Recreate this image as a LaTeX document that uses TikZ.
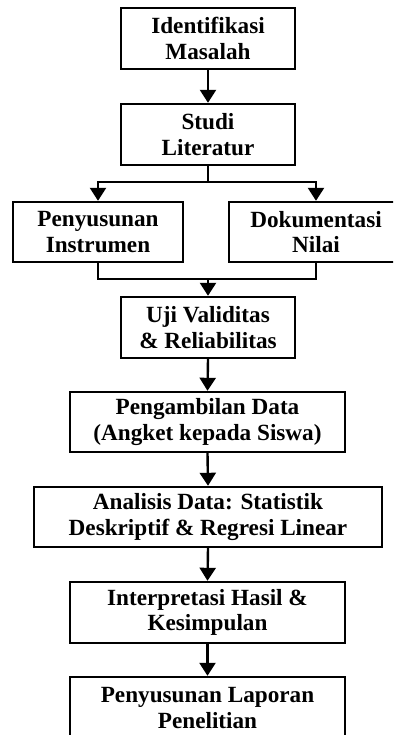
\documentclass[tikz,border=0pt]{standalone}
\usepackage{fontspec}
\setmainfont{Liberation Serif}
\usetikzlibrary{arrows.meta}
\begin{document}
\begin{tikzpicture}[x=1pt,y=-1pt,
  box/.style={draw,line width=2.4pt,align=center,inner sep=0pt,
    font=\fontsize{23.2}{25.5}\selectfont\bfseries},
  conn/.style={line width=2.4pt},
  arr/.style={conn,-{Triangle[width=16pt,length=13pt]}}]
\path[use as bounding box] (0,0) rectangle (393,735);
\clip (0,0) rectangle (393,735);
\node[box,minimum width=174pt,minimum height=61pt] (b1) at (208,38.5) {Identifikasi\\Masalah};
\node[box,minimum width=174pt,minimum height=61pt] (b2) at (208,134.5) {Studi\\Literatur};
\node[box,minimum width=170pt,minimum height=60pt] (b3l) at (98,232) {Penyusunan\\Instrumen};
\node[box,minimum width=174pt,minimum height=60pt] (b3r) at (316,232) {Dokumentasi\\Nilai};
\node[box,minimum width=174pt,minimum height=61pt] (b4) at (208,327.5) {Uji Validitas\\\& Reliabilitas};
\node[box,minimum width=275pt,minimum height=60pt] (b5) at (207.5,422) {Pengambilan Data\\(Angket kepada Siswa)};
\node[box,minimum width=348pt,minimum height=60pt] (b6) at (208,517) {Analisis Data: Statistik\\Deskriptif \& Regresi Linear};
\node[box,minimum width=275pt,minimum height=61pt] (b7) at (207.5,612.5) {Interpretasi Hasil \&\\Kesimpulan};
\node[box,minimum width=275pt,minimum height=62pt] (b8) at (207.5,708) {Penyusunan Laporan\\Penelitian};
\coordinate (s) at (208,182);
\coordinate (m) at (208,279);
\draw[arr] (b1.south) -- (b2.north);
\draw[conn] (b2.south) -- (s);
\draw[arr] (s) -| (b3l.north);
\draw[arr] (s) -| (b3r.north);
\draw[conn] (b3l.south) -- (b3l.south |- m) -- (b3r.south |- m) -- (b3r.south);
\draw[arr] (m) -- (b4.north);
\draw[arr] (b4.south) -- (b5.north);
\draw[arr] (b5.south) -- (b6.north);
\draw[arr] (b6.south) -- (b7.north);
\draw[arr] (b7.south) -- (b8.north);
\end{tikzpicture}
\end{document}
